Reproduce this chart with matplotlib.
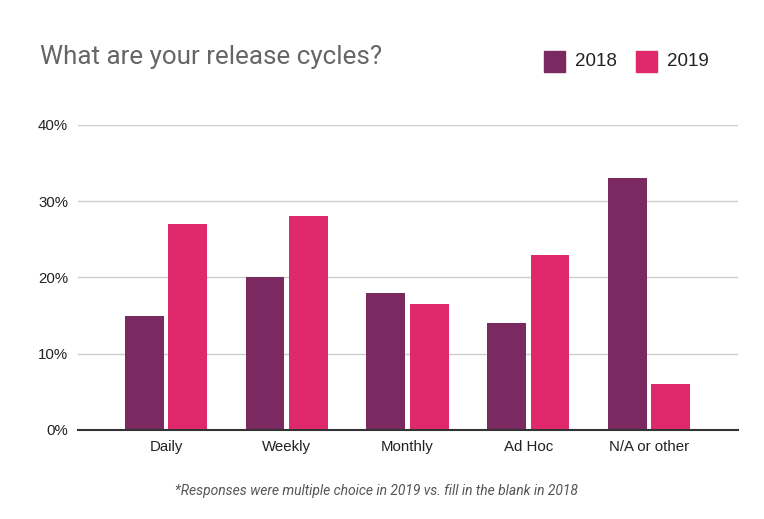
import matplotlib
matplotlib.use("Agg")
import matplotlib.pyplot as plt
from matplotlib.patches import Rectangle
import numpy as np

categories = ["Daily", "Weekly", "Monthly", "Ad Hoc", "N/A or other"]
values_2018 = [15, 20, 18, 14, 33]
values_2019 = [27, 28, 16.5, 23, 6]
series_names = ["2018", "2019"]
yticks = [0, 10, 20, 30, 40]
ytick_labels = ["0%", "10%", "20%", "30%", "40%"]

c2018 = "#7a2a60"
c2019 = "#e0296c"

fig = plt.figure(figsize=(7.64, 5.19), dpi=100)
ax = fig.add_axes([0.102, 0.1715, 0.864, 0.5877])

x = np.arange(len(categories))
w = 0.32
ax.bar(x - 0.18, values_2018, width=w, color=c2018, zorder=3)
ax.bar(x + 0.18, values_2019, width=w, color=c2019, zorder=3)

ax.set_xlim(-0.729, 4.737)
ax.set_ylim(0, 40)
ax.set_yticks(yticks)
ax.set_yticklabels(ytick_labels, family="Liberation Sans", fontsize=10.8, color="#222222")
ax.set_xticks(x)
ax.set_xticklabels(categories, family="Liberation Sans", fontsize=10.8, color="#222222")
ax.tick_params(axis="both", length=0)
ax.tick_params(axis="x", pad=7)
ax.tick_params(axis="y", pad=7)
ax.grid(axis="y", color="#cccccc", linewidth=1, zorder=0)
for s in ["top", "right", "left"]:
    ax.spines[s].set_visible(False)
ax.spines["bottom"].set_color("#333333")
ax.spines["bottom"].set_linewidth(1.5)
ax.spines["bottom"].set_zorder(4)

fig.text(40 / 764, 1 - 64 / 519, "What are your release cycles?", family="Roboto",
         fontsize=18.7, color="#666666", ha="left", va="baseline")

# legend
for i, (name, col) in enumerate(zip(series_names, [c2018, c2019])):
    x0 = [544, 636][i]
    fig.patches.append(Rectangle((x0 / 764, 1 - 72 / 519), 21 / 764, 21 / 519,
                                 transform=fig.transFigure, color=col, figure=fig))
    fig.text((x0 + 31) / 764, 1 - 62 / 519, name, family="Liberation Sans",
             fontsize=13.5, color="#222222", ha="left", va="center")

fig.text(376 / 764, 1 - 491 / 519,
         "*Responses were multiple choice in 2019 vs. fill in the blank in 2018",
         family="Roboto", style="italic", fontsize=10, color="#555555",
         ha="center", va="center")

fig.savefig("out.png", dpi=100)
